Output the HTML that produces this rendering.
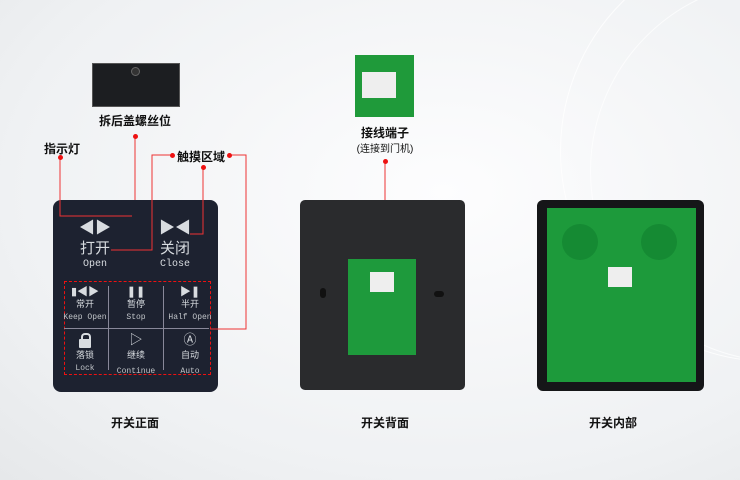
<!DOCTYPE html>
<html><head><meta charset="utf-8"><style>
body{margin:0;width:740px;height:480px;overflow:hidden;background:radial-gradient(ellipse at 60% 40%,#fdfdfe 0%,#eff1f3 70%,#e6e8ea 100%);font-family:"Liberation Sans","Noto Sans CJK SC",sans-serif;position:relative}
.a{position:absolute}
.lbl{position:absolute;font-weight:bold;font-size:12px;color:#111;white-space:nowrap;transform:translateX(-50%)}
.w{color:#d8dce0;text-align:center;position:absolute;transform:translateX(-50%);line-height:1.1}
.s{font-size:8px;color:#c0c4c8;font-family:"Liberation Mono",monospace}
.dot{position:absolute;width:5px;height:5px;border-radius:50%;background:#e11;margin:-2.5px 0 0 -2.5px}
</style></head><body>
<div class="a" style="left:560px;top:-60px;width:420px;height:420px;border-radius:50%;border:1px solid #fff;opacity:.8"></div>
<div class="a" style="left:590px;top:-20px;width:380px;height:380px;border-radius:50%;border:1px solid #fff;opacity:.7"></div>

<!-- left -->
<div class="a" style="left:92px;top:63px;width:86px;height:42px;background:#1c1e21;border:1px solid #555"></div>
<div class="a" style="left:131px;top:67px;width:7px;height:7px;border-radius:50%;background:#333;border:1px solid #666"></div>
<div class="lbl" style="left:135px;top:112px">拆后盖螺丝位</div>
<div class="lbl" style="left:62px;top:140px">指示灯</div>
<div class="lbl" style="left:201px;top:148px">触摸区域</div>

<div class="a" style="left:53px;top:200px;width:165px;height:192px;background:#1d2230;border-radius:8px"></div>
<div class="w" style="left:95px;top:220px;font-size:16px">◀▶</div>
<div class="w" style="left:95px;top:241px;font-size:15px">打开</div>
<div class="w" style="left:95px;top:259px;font-size:10px;font-family:'Liberation Mono',monospace">Open</div>
<div class="w" style="left:175px;top:220px;font-size:16px">▶◀</div>
<div class="w" style="left:175px;top:241px;font-size:15px">关闭</div>
<div class="w" style="left:175px;top:259px;font-size:10px;font-family:'Liberation Mono',monospace">Close</div>
<div class="a" style="left:64px;top:281px;width:145px;height:92px;border:1px dashed #e11"></div>
<div class="a" style="left:108px;top:286px;width:1px;height:84px;background:#889"></div>
<div class="a" style="left:163px;top:286px;width:1px;height:84px;background:#889"></div>
<div class="a" style="left:64px;top:328px;width:145px;height:1px;background:#889"></div>
<div class="w" style="left:85px;top:286px;font-size:11px">▮◀▶<br><span style="font-size:9px">常开</span><br><span class="s">Keep Open</span></div>
<div class="w" style="left:136px;top:286px;font-size:11px">❚❚<br><span style="font-size:9px">暂停</span><br><span class="s">Stop</span></div>
<div class="w" style="left:190px;top:286px;font-size:11px">▶❚<br><span style="font-size:9px">半开</span><br><span class="s">Half Open</span></div>
<div class="a" style="left:81px;top:333px;width:6px;height:6px;border:2px solid #d8dce0;border-bottom:none;border-radius:4px 4px 0 0"></div>
<div class="a" style="left:79px;top:339px;width:12px;height:9px;background:#d8dce0;border-radius:1px"></div>
<div class="w" style="left:85px;top:349px;font-size:11px"><span style="font-size:9px">落锁</span><br><span class="s">Lock</span></div>
<div class="w" style="left:136px;top:333px;font-size:13px">▷<br><span style="font-size:9px">继续</span><br><span class="s">Continue</span></div>
<div class="w" style="left:190px;top:333px;font-size:13px">Ⓐ<br><span style="font-size:9px">自动</span><br><span class="s">Auto</span></div>

<svg class="a" style="left:0;top:0" width="740" height="480"><g stroke="#e33" stroke-width="1" fill="none">
<path d="M135 136V200"/><path d="M60 157V216H132"/><path d="M172 155H152V250H111"/><path d="M229 155H246V329H210"/><path d="M203 167V234H190"/><path d="M385 161V262"/></g></svg>
<div class="dot" style="left:135px;top:136px"></div><div class="dot" style="left:60px;top:157px"></div>
<div class="dot" style="left:172px;top:155px"></div><div class="dot" style="left:229px;top:155px"></div>
<div class="dot" style="left:203px;top:167px"></div><div class="dot" style="left:385px;top:161px"></div>

<!-- middle -->
<div class="a" style="left:355px;top:55px;width:59px;height:62px;background:#1f9a3a"></div>
<div class="a" style="left:362px;top:72px;width:34px;height:26px;background:#eee"></div>
<div class="lbl" style="left:385px;top:124px">接线端子</div>
<div class="lbl" style="left:385px;top:140px;font-weight:normal;font-size:10px">(连接到门机)</div>
<div class="a" style="left:300px;top:200px;width:165px;height:190px;background:#2a2b2d;border-radius:5px"></div>
<div class="a" style="left:348px;top:259px;width:68px;height:96px;background:#1e9a3c"></div>
<div class="a" style="left:370px;top:272px;width:24px;height:20px;background:#eee"></div>
<div class="a" style="left:320px;top:288px;width:6px;height:10px;background:#111;border-radius:3px"></div>
<div class="a" style="left:434px;top:291px;width:10px;height:6px;background:#111;border-radius:3px"></div>

<!-- right -->
<div class="a" style="left:537px;top:200px;width:167px;height:191px;background:#151618;border-radius:6px"></div>
<div class="a" style="left:547px;top:208px;width:149px;height:174px;background:#1d9a3b"></div>
<div class="a" style="left:562px;top:224px;width:36px;height:36px;border-radius:50%;background:#158a33"></div>
<div class="a" style="left:641px;top:224px;width:36px;height:36px;border-radius:50%;background:#158a33"></div>
<div class="a" style="left:608px;top:267px;width:24px;height:20px;background:#eee"></div>

<div class="lbl" style="left:135px;top:414px">开关正面</div>
<div class="lbl" style="left:385px;top:414px">开关背面</div>
<div class="lbl" style="left:613px;top:414px">开关内部</div>
</body></html>
